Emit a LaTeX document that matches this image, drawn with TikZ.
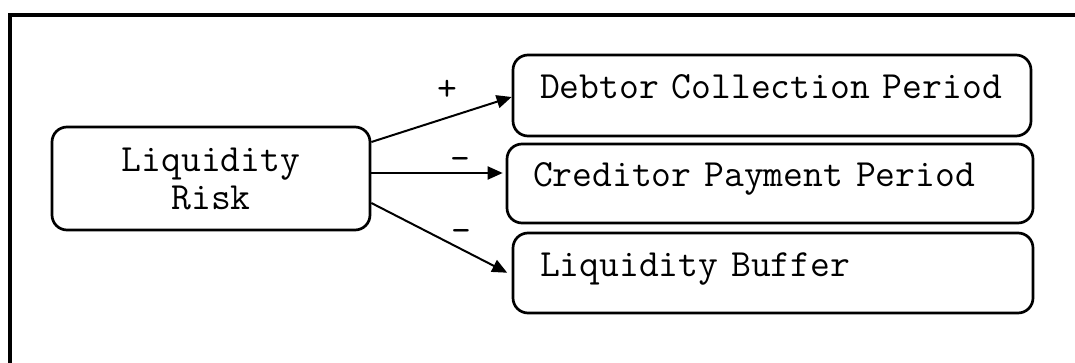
\documentclass[tikz,border=0pt]{standalone}
\usepackage{fontspec}
\newfontfamily\cour{Latin Modern Mono}
\usetikzlibrary{arrows.meta}
\begin{document}
\begin{tikzpicture}[x=1pt,y=-1pt,
  every node/.style={font=\cour\fontsize{38.5}{38}\selectfont},
  box/.style={draw,line width=2.7pt,rounded corners=15pt,inner ysep=0pt},
  itembox/.style={box,align=left,text height=21pt,text depth=15pt},
  arr/.style={line width=2pt,-{Triangle[length=15pt,width=13pt]}},
  sign/.style={inner sep=0pt}
]
\useasboundingbox (0,0) rectangle (1075,363);
% outer frame (top and left edges)
\draw[line width=3.6pt] (10,363) -- (10,15) -- (1075,15);

% cause
\node[box,align=center,minimum width=318pt,minimum height=103pt,inner xsep=0pt]
  (lr) at (211,178.5) {\rule{0pt}{25pt}Liquidity\\Risk};

% effects
\node[itembox,minimum width=518pt,minimum height=81pt,inner xsep=27pt,text width=464pt]
  (debt) at (772,95.5) {\mbox{Debtor Collection Period}};
\node[itembox,minimum width=526pt,minimum height=79pt,inner xsep=26pt,text width=474pt]
  (cred) at (770,183.5) {\mbox{Creditor Payment Period}};
\node[itembox,minimum width=520pt,minimum height=80pt,inner xsep=27pt,text width=466pt]
  (buf) at (773,273) {\mbox{Liquidity Buffer}};

% connectors
\draw[arr] ([yshift=36.5pt]lr.east) -- ([yshift=-1.5pt]debt.west);
\draw[arr,shorten >=3pt] ([yshift=5.5pt]lr.east) -- ([yshift=5.5pt]lr.east -| cred.west);
\draw[arr,shorten >=5pt] ([yshift=-24.5pt]lr.east) -- ([yshift=-2pt]buf.west);

% polarity signs
\node[sign] (s1) at (447,90) {+};
\node[sign] (s2) at (460,164) {-};
\node[sign] (s3) at (461,236) {-};
\end{tikzpicture}
\end{document}
